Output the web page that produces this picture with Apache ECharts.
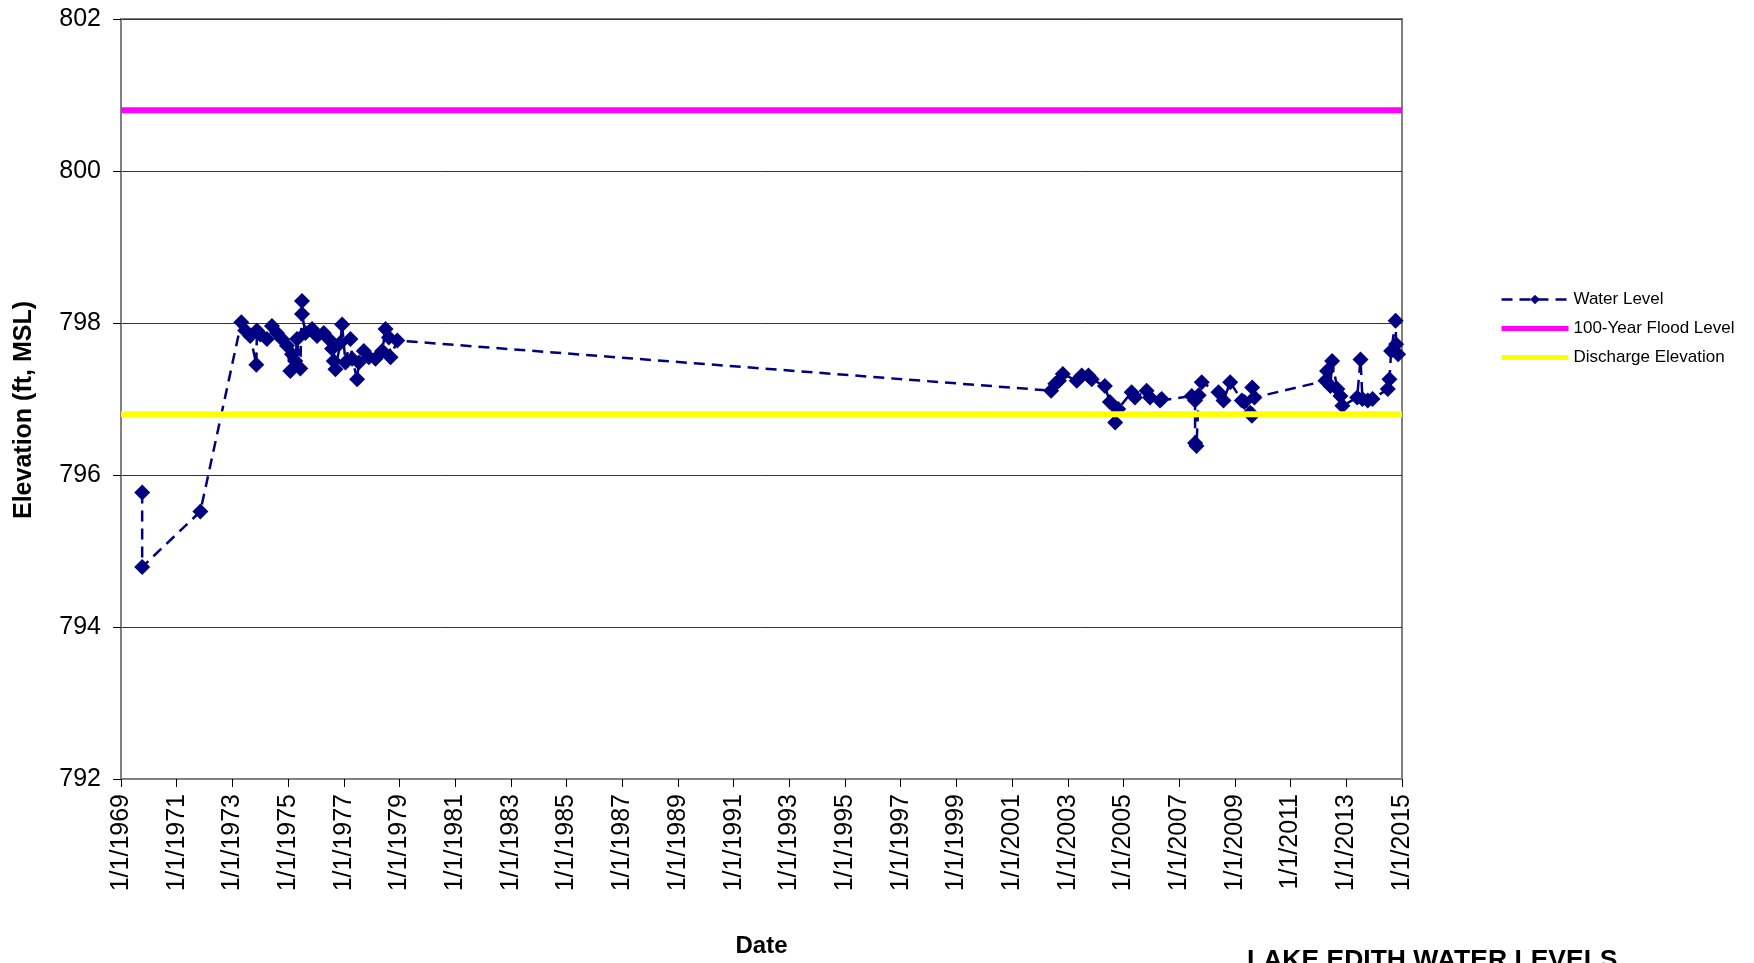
<!DOCTYPE html>
<html>
<head>
<meta charset="utf-8">
<title>Lake Edith Water Levels</title>
<script src="https://cdn.jsdelivr.net/npm/echarts@6/dist/echarts.min.js"></script>
<style>
  html, body { margin: 0; padding: 0; background: #fff; }
  #chart { width: 1754px; height: 963px; }
</style>
</head>
<body>
<div id="chart"></div>
<script>
// dates as decimal years
var dates = [
  1969.76, 1969.76, 1971.85,
  1973.32, 1973.46, 1973.64, 1973.86, 1973.88, 1974.00, 1974.24, 1974.42, 1974.60, 1974.78,
  1974.96, 1975.08, 1975.14, 1975.26, 1975.32, 1975.44, 1975.50, 1975.50, 1975.62, 1975.86,
  1976.04, 1976.28, 1976.46, 1976.58, 1976.64, 1976.70, 1976.88, 1976.94, 1977.06, 1977.24,
  1977.30, 1977.48, 1977.54, 1977.72, 1977.90, 1978.14, 1978.38, 1978.50, 1978.62, 1978.68,
  1978.92,
  2002.40, 2002.55, 2002.68, 2002.82, 2003.32, 2003.50, 2003.74, 2003.86, 2004.33, 2004.51,
  2004.70, 2004.81, 2005.29, 2005.41, 2005.83, 2005.95, 2006.31, 2006.37,
  2007.45, 2007.57, 2007.57, 2007.62, 2007.70, 2007.81, 2008.41, 2008.59, 2008.83, 2009.25,
  2009.34, 2009.55, 2009.61, 2009.62, 2009.70,
  2012.25, 2012.31, 2012.43, 2012.49, 2012.68, 2012.79, 2012.86, 2013.39, 2013.51, 2013.58,
  2013.77, 2013.94, 2014.49, 2014.55, 2014.61, 2014.77, 2014.79, 2014.86
];
var waterLevel = [
  795.77, 794.79, 795.52,
  798.01, 797.90, 797.83, 797.45, 797.90, 797.85, 797.79, 797.96, 797.87, 797.79,
  797.70, 797.37, 797.59, 797.50, 797.79, 797.40, 798.29, 798.12, 797.87, 797.92,
  797.83, 797.87, 797.79, 797.66, 797.50, 797.39, 797.74, 797.98, 797.48, 797.79,
  797.53, 797.26, 797.48, 797.63, 797.55, 797.53, 797.63, 797.92, 797.81, 797.55,
  797.77,
  797.11, 797.20, 797.24, 797.33, 797.24, 797.31, 797.31, 797.26, 797.17, 796.96,
  796.69, 796.87, 797.09, 797.02, 797.11, 797.02, 796.98, 797.00,
  797.04, 796.98, 796.42, 796.38, 797.05, 797.22, 797.09, 796.98, 797.22, 796.98,
  796.96, 796.82, 796.78, 797.15, 797.02,
  797.24, 797.37, 797.17, 797.50, 797.13, 797.04, 796.91, 797.02, 797.52, 797.00,
  796.98, 797.00, 797.13, 797.26, 797.63, 798.03, 797.72, 797.59
];
var floodLevel = 800.8;
var dischargeElevation = 796.8;
var xMin = 1969, xMax = 2015, xStep = 2;
var yMin = 792, yMax = 802, yStep = 2;

var chart = echarts.init(document.getElementById('chart'));
var font = 'Liberation Sans, Arial, sans-serif';

chart.setOption({
  backgroundColor: '#fff',
  animation: false,
  textStyle: { fontFamily: font },
  title: {
    text: 'LAKE EDITH WATER LEVELS',
    left: 1242,
    top: 942,
    textStyle: { fontSize: 26.5, fontWeight: 'bold', color: '#000', fontFamily: font }
  },
  legend: {
    orient: 'vertical',
    left: 1494,
    top: 286,
    itemWidth: 67,
    itemHeight: 12,
    itemGap: 12,
    data: [
      { name: 'Water Level', lineStyle: { width: 2.5 } },
      { name: '100-Year Flood Level', lineStyle: { width: 5 }, itemStyle: { opacity: 0 } },
      { name: 'Discharge Elevation', lineStyle: { width: 5 }, itemStyle: { opacity: 0 } }
    ],
    textStyle: { fontSize: 17, color: '#000', fontFamily: font }
  },
  grid: {
    left: 121,
    top: 19,
    right: 352,
    bottom: 182,
    show: true,
    borderColor: '#808080',
    borderWidth: 2
  },
  xAxis: {
    type: 'value',
    min: xMin,
    max: xMax,
    interval: xStep,
    name: 'Date',
    nameLocation: 'middle',
    nameGap: 155,
    nameTextStyle: { fontSize: 24, fontWeight: 'bold', color: '#000' },
    axisLine: { lineStyle: { color: '#808080', width: 2 } },
    axisTick: { length: 8, lineStyle: { color: '#000' } },
    axisLabel: {
      rotate: 90,
      fontSize: 25,
      color: '#000',
      margin: 15,
      showMinLabel: true,
      showMaxLabel: true,
      formatter: function (v) { return '1/1/' + v; }
    },
    splitLine: { show: false }
  },
  yAxis: {
    type: 'value',
    min: yMin,
    max: yMax,
    interval: yStep,
    name: 'Elevation (ft, MSL)',
    nameLocation: 'middle',
    nameGap: 84,
    nameTextStyle: { fontSize: 25, fontWeight: 'bold', color: '#000', padding: [0, 22, 0, 0] },
    axisLine: { show: true, lineStyle: { color: '#808080', width: 2 } },
    axisTick: { show: true, length: 8, lineStyle: { color: '#000' } },
    axisLabel: { fontSize: 25, color: '#000', margin: 20 },
    splitLine: { lineStyle: { color: '#333', width: 1 } }
  },
  series: [
    {
      name: 'Water Level',
      type: 'line',
      data: dates.map(function (d, i) { return [d, waterLevel[i]]; }),
      symbol: 'diamond',
      symbolSize: 16,
      showSymbol: true,
      itemStyle: { color: '#000080' },
      lineStyle: { color: '#000080', width: 2.5, type: [11, 7] },
      z: 2
    },
    {
      name: '100-Year Flood Level',
      type: 'line',
      data: [[xMin, floodLevel], [xMax, floodLevel]],
      symbol: 'none',
      itemStyle: { color: '#ff00ff' },
      lineStyle: { color: '#ff00ff', width: 6 },
      z: 3
    },
    {
      name: 'Discharge Elevation',
      type: 'line',
      data: [[xMin, dischargeElevation], [xMax, dischargeElevation]],
      symbol: 'none',
      itemStyle: { color: '#ffff00' },
      lineStyle: { color: '#ffff00', width: 6 },
      z: 3
    }
  ]
});
</script>
</body>
</html>
